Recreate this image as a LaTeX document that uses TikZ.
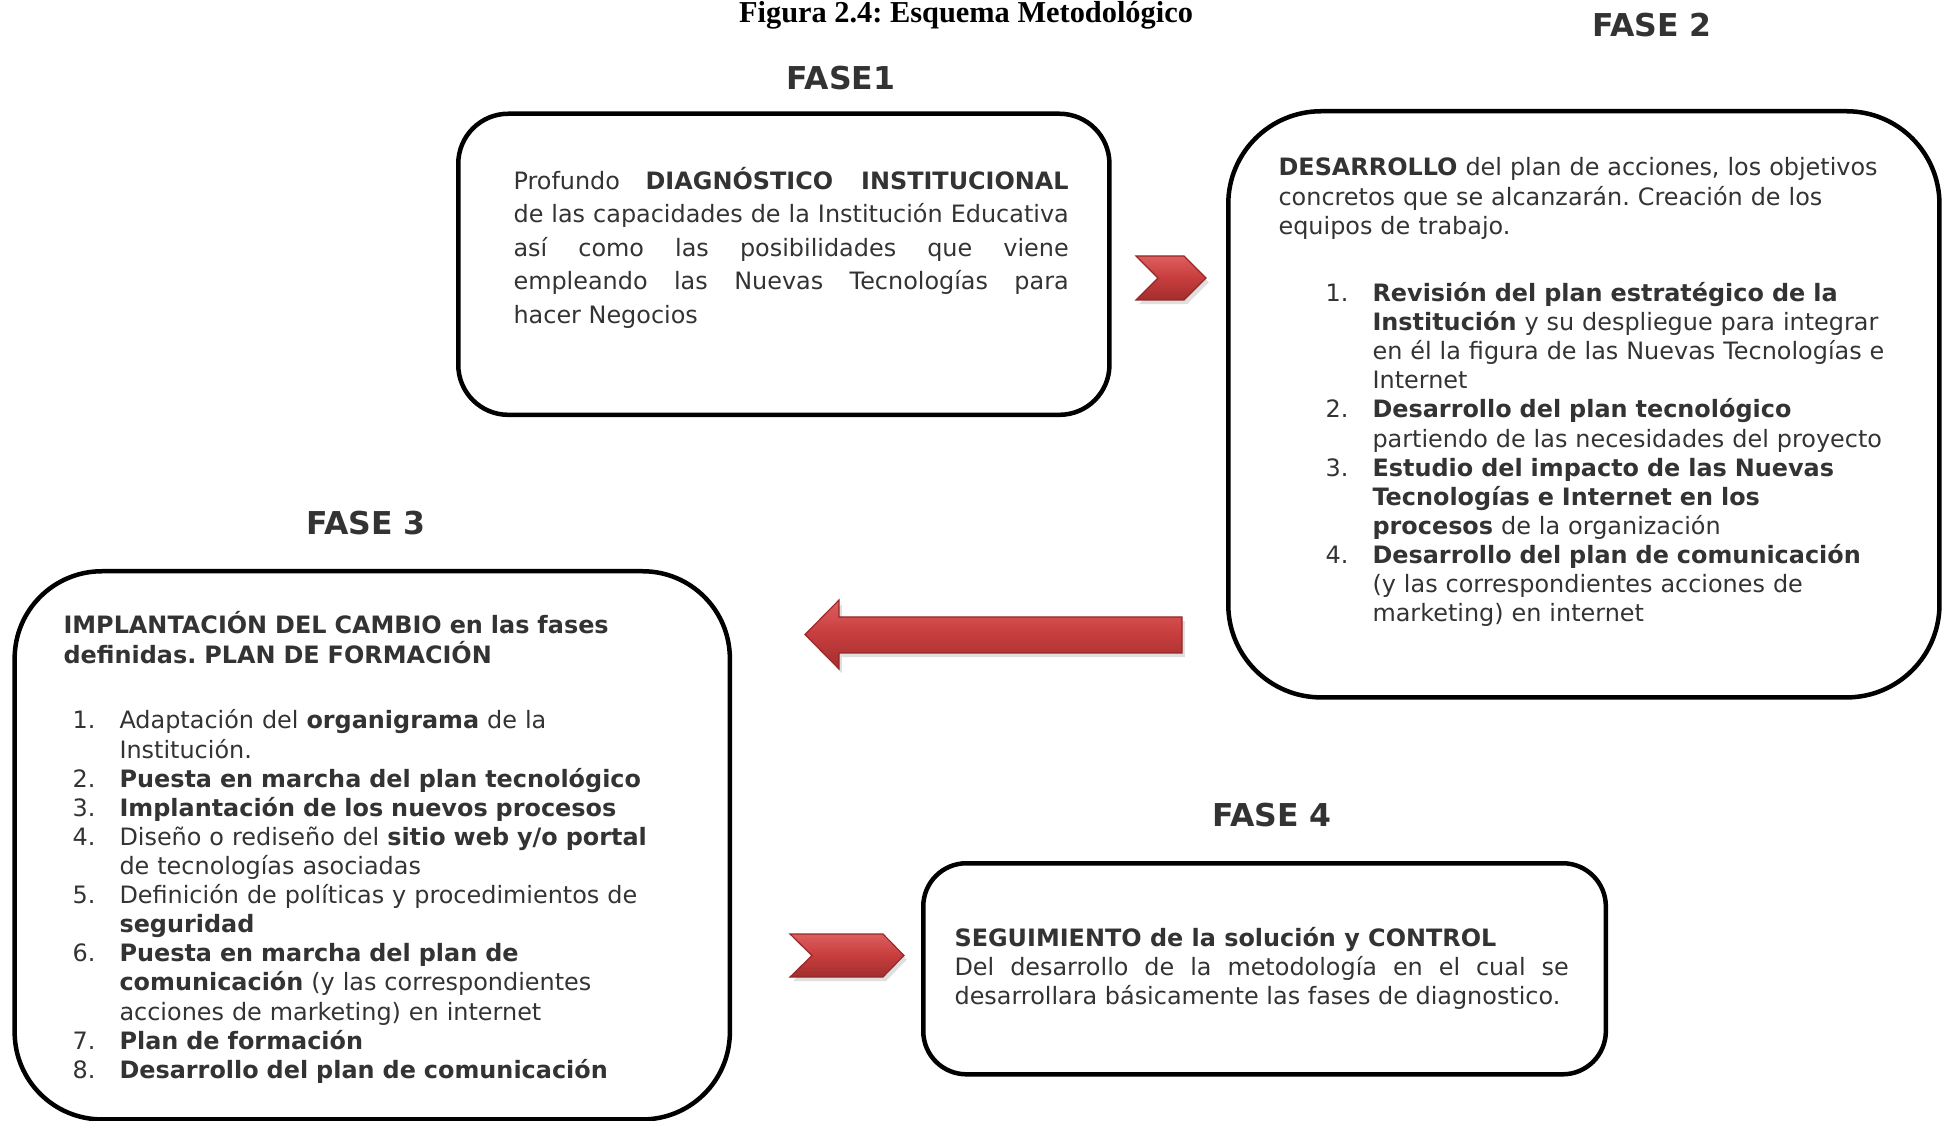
\documentclass[tikz,border=0pt]{standalone}
\usepackage{fontspec}
\setmainfont{DejaVu Sans}
\newfontfamily\captionfont{Liberation Serif}
\usetikzlibrary{shadows}
\frenchspacing

\definecolor{fasetext}{HTML}{333333}
\definecolor{arrowtop}{HTML}{DE5E5E}
\definecolor{arrowmid}{HTML}{C73D3D}
\definecolor{arrowbot}{HTML}{A22E2E}
\definecolor{arrowline}{HTML}{962828}

\newlength{\itemw}
\setlength{\itemw}{16.7pt}
\newcommand{\itm}[1]{\makebox[\itemw][l]{#1}}
\newcommand{\cnt}{\hspace*{\itemw}}

\begin{document}
\begin{tikzpicture}[x=0.0125cm, y=-0.0125cm,
    fasebox/.style={draw=black, line width=1.6pt, anchor=north west, inner sep=0pt},
    fasetitle/.style={text=fasetext, inner sep=0pt, font=\fontsize{11.2pt}{13pt}\selectfont\bfseries},
    body/.style={text=fasetext, anchor=base west, inner sep=0pt, font=\fontsize{8.5pt}{10.35pt}\selectfont},
    chevron/.style={top color=arrowtop, bottom color=arrowbot, middle color=arrowmid,
        draw=arrowline, line width=0.4pt,
        drop shadow={opacity=0.25, shadow xshift=1pt, shadow yshift=-1.5pt}}]
    \useasboundingbox (0,0) rectangle (1943,1121);

    % Caption
    \node[anchor=base, inner sep=0pt, font=\captionfont\bfseries\fontsize{10.8pt}{13pt}\selectfont]
        (caption) at (966,23) {Figura 2.4: Esquema Metodológico};

    % Phase boxes
    \node[fasebox, rounded corners=0.625cm, minimum width=8.1375cm, minimum height=3.7625cm] (f1box) at (456,111.5) {};
    \node[fasebox, rounded corners=1.16cm, minimum width=8.8875cm, minimum height=7.325cm] (f2box) at (1226,109) {};
    \node[fasebox, rounded corners=1.09cm, minimum width=8.9375cm, minimum height=6.85cm] (f3box) at (12.4,569) {};
    \node[fasebox, rounded corners=0.54cm, minimum width=8.53cm, minimum height=2.6375cm] (f4box) at (921,861) {};

    % Phase headings
    \node[fasetitle] (f1title) at (841,78) {FASE1};
    \node[fasetitle] (f2title) at (1652,25) {FASE 2};
    \node[fasetitle] (f3title) at (366,523) {FASE 3};
    \node[fasetitle] (f4title) at (1272,815) {FASE 4};

    % Phase 1 text
    \node[body, text width=6.9375cm, align=justify, font=\fontsize{8.5pt}{11.9pt}\selectfont] (f1text) at (513,189.5)
        {Profundo \textbf{DIAGNÓSTICO INSTITUCIONAL}\linebreak
         de las capacidades de la Institución Educativa\linebreak
         así como las posibilidades que viene\linebreak
         empleando las Nuevas Tecnologías para\linebreak
         hacer Negocios};

    % Phase 2 text
    \node[body, text width=7.6cm, align=left] (f2text) at (1278,176)
        {\textbf{DESARROLLO} del plan de acciones, los objetivos\\
         concretos que se alcanzarán. Creación de los\\
         equipos de trabajo.};
    \node[body, text width=7.4cm, align=left] (f2list) at (1325,301.5)
        {\itm{1.}\textbf{Revisión del plan estratégico de la}\\
         \cnt\textbf{Institución} y su despliegue para integrar\\
         \cnt en él la figura de las Nuevas Tecnologías e\\
         \cnt Internet\\
         \itm{2.}\textbf{Desarrollo del plan tecnológico}\\
         \cnt partiendo de las necesidades del proyecto\\
         \itm{3.}\textbf{Estudio del impacto de las Nuevas}\\
         \cnt\textbf{Tecnologías e Internet en los}\\
         \cnt\textbf{procesos} de la organización\\
         \itm{4.}\textbf{Desarrollo del plan de comunicación}\\
         \cnt(y las correspondientes acciones de\\
         \cnt marketing) en internet};

    % Phase 3 text
    \node[body, text width=8cm, align=left] (f3text) at (63,634)
        {\textbf{IMPLANTACIÓN DEL CAMBIO en las fases}\\
         \textbf{definidas. PLAN DE FORMACIÓN}};
    \node[body, text width=8cm, align=left] (f3list) at (72,729)
        {\itm{1.}Adaptación del \textbf{organigrama} de la\\
         \cnt Institución.\\
         \itm{2.}\textbf{Puesta en marcha del plan tecnológico}\\
         \itm{3.}\textbf{Implantación de los nuevos procesos}\\
         \itm{4.}Diseño o rediseño del \textbf{sitio web y/o portal}\\
         \cnt de tecnologías asociadas\\
         \itm{5.}Definición de políticas y procedimientos de\\
         \cnt\textbf{seguridad}\\
         \itm{6.}\textbf{Puesta en marcha del plan de}\\
         \cnt\textbf{comunicación} (y las correspondientes\\
         \cnt acciones de marketing) en internet\\
         \itm{7.}\textbf{Plan de formación}\\
         \itm{8.}\textbf{Desarrollo del plan de comunicación}};

    % Phase 4 text
    \node[body, text width=7.675cm, align=justify] (f4text) at (954,946)
        {\textbf{SEGUIMIENTO de la solución y CONTROL}\par
         Del desarrollo de la metodología en el cual se\linebreak
         desarrollara básicamente las fases de diagnostico.};

    % Arrows between phases
    \path[chevron] (1136,256) -- (1184,256) -- (1206,278) -- (1184,300) -- (1136,300) -- (1158,278) -- cycle;
    \path[chevron] (805,634.5) -- (839,600) -- (839,617) -- (1182,617) -- (1182,653)
        -- (839,653) -- (839,669) -- cycle;
    \path[chevron] (790,934) -- (883,934) -- (904,955.5) -- (883,977) -- (790,977) -- (812,955.5) -- cycle;
\end{tikzpicture}
\end{document}
